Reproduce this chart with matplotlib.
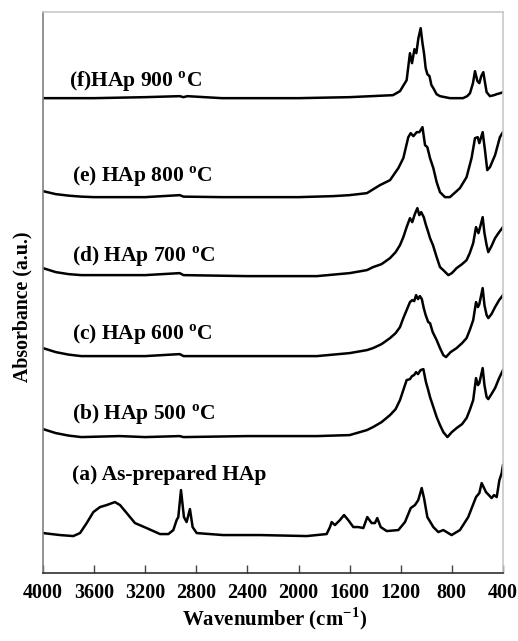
import numpy as np
import matplotlib
matplotlib.use('Agg')
import matplotlib.pyplot as plt

plt.rcParams.update({'font.family': 'Liberation Serif', 'font.weight': 'bold',
                     'mathtext.fontset': 'custom',
                     'mathtext.rm': 'Liberation Serif:bold',
                     'mathtext.bf': 'Liberation Serif:bold'})

# FTIR spectra (wavenumber in cm-1, absorbance with offset, a.u.)
wn_a = [4000, 3867, 3763, 3710, 3658, 3606, 3554, 3502, 3437, 3397, 3345, 3280, 3189, 3084,
        3019, 2980, 2954, 2941, 2920, 2897, 2876, 2850, 2829, 2797, 2591, 2300, 1936, 1780,
        1754, 1741, 1715, 1676, 1644, 1611, 1571, 1532, 1493, 1462, 1428, 1402, 1384, 1357,
        1310, 1219, 1167, 1122, 1089, 1063, 1036, 1018, 992, 945, 906, 867, 802, 737, 672,
        611, 585, 567, 533, 489, 470, 449, 428, 410, 400]
abs_a = [0.40, 0.38, 0.37, 0.40, 0.50, 0.61, 0.66, 0.68, 0.71, 0.68, 0.60, 0.50, 0.45, 0.39,
         0.39, 0.43, 0.53, 0.56, 0.83, 0.56, 0.51, 0.64, 0.46, 0.40, 0.38, 0.38, 0.37, 0.39,
         0.46, 0.51, 0.48, 0.53, 0.58, 0.53, 0.46, 0.46, 0.45, 0.56, 0.50, 0.50, 0.55, 0.46,
         0.42, 0.43, 0.51, 0.65, 0.68, 0.73, 0.85, 0.75, 0.56, 0.46, 0.41, 0.43, 0.38, 0.43, 0.56,
         0.76, 0.80, 0.90, 0.81, 0.75, 0.78, 0.76, 0.93, 1.00, 1.08]

wn_b = [4000, 3900, 3800, 3700, 3400, 3200, 2930, 2900, 2400, 1856, 1600, 1465, 1417, 1350,
        1284, 1240, 1206, 1180, 1154, 1128, 1112, 1096, 1080, 1065, 1045, 1023, 1003, 985, 971,
        950, 919, 893, 867, 835, 800, 763, 720, 685, 660, 633, 611, 596, 585, 559, 545, 528,
        515, 490, 462, 430, 400]
abs_b = [1.44, 1.40, 1.375, 1.36, 1.37, 1.36, 1.37, 1.36, 1.37, 1.37, 1.38, 1.43, 1.46, 1.51,
         1.58, 1.64, 1.73, 1.83, 1.93, 1.94, 1.97, 1.98, 2.01, 1.99, 2.03, 2.04, 1.91, 1.83, 1.76,
         1.68, 1.56, 1.48, 1.41, 1.36, 1.41, 1.45, 1.49, 1.55, 1.63, 1.73, 1.95, 1.88, 1.90, 2.05,
         1.88, 1.76, 1.74, 1.79, 1.85, 1.95, 2.03]

wn_c = [4000, 3900, 3800, 3700, 3200, 2930, 2900, 2400, 1856, 1600, 1465, 1417, 1350, 1284,
        1240, 1206, 1180, 1154, 1128, 1110, 1095, 1080, 1065, 1050, 1035, 1020, 1005, 985, 971,
        950, 919, 893, 867, 846, 810, 763, 720, 685, 660, 633, 611, 596, 585, 559, 545, 528,
        515, 490, 462, 430, 400]
abs_c = [2.25, 2.21, 2.185, 2.17, 2.17, 2.19, 2.17, 2.17, 2.17, 2.20, 2.23, 2.25, 2.29, 2.35,
         2.40, 2.46, 2.55, 2.63, 2.71, 2.73, 2.72, 2.78, 2.74, 2.77, 2.74, 2.65, 2.58, 2.51, 2.50,
         2.41, 2.33, 2.25, 2.18, 2.16, 2.21, 2.25, 2.30, 2.35, 2.43, 2.53, 2.71, 2.66, 2.69, 2.85,
         2.68, 2.58, 2.55, 2.59, 2.66, 2.73, 2.78]

wn_d = [4000, 3900, 3800, 3700, 3200, 2930, 2900, 2400, 1856, 1600, 1465, 1417, 1350, 1284,
        1240, 1206, 1180, 1154, 1128, 1110, 1090, 1070, 1055, 1040, 1020, 1005, 985, 971, 948,
        919, 893, 867, 828, 800, 763, 720, 685, 660, 633, 611, 592, 575, 559, 545, 528, 515,
        490, 462, 430, 400]
abs_d = [3.05, 3.01, 2.99, 2.98, 2.98, 3.00, 2.98, 2.97, 2.97, 3.00, 3.03, 3.06, 3.09, 3.15,
         3.21, 3.28, 3.36, 3.46, 3.55, 3.51, 3.59, 3.65, 3.58, 3.61, 3.56, 3.49, 3.41, 3.35, 3.28,
         3.16, 3.06, 3.03, 2.98, 3.00, 3.05, 3.09, 3.13, 3.20, 3.30, 3.46, 3.40, 3.48, 3.56, 3.40,
         3.28, 3.21, 3.27, 3.35, 3.41, 3.46]

wn_e = [4000, 3900, 3800, 3700, 3600, 3200, 2930, 2900, 2600, 2000, 1730, 1600, 1465, 1363,
        1284, 1219, 1180, 1141, 1122, 1101, 1075, 1054, 1030, 1010, 992, 971, 945, 919, 893,
        854, 815, 737, 685, 646, 619, 598, 585, 559, 541, 523, 502, 462, 424, 400]
abs_e = [3.82, 3.79, 3.775, 3.765, 3.76, 3.76, 3.78, 3.765, 3.76, 3.76, 3.77, 3.78, 3.80, 3.88,
         3.93, 4.05, 4.15, 4.36, 4.40, 4.37, 4.41, 4.41, 4.46, 4.28, 4.26, 4.15, 4.05, 3.91, 3.81,
         3.76, 3.76, 3.85, 3.96, 4.15, 4.35, 4.36, 4.30, 4.41, 4.23, 4.03, 4.06, 4.18, 4.36, 4.41]

wn_f = [4000, 3600, 3200, 2930, 2900, 2870, 2600, 2000, 1600, 1261, 1206, 1154, 1128, 1112,
        1093, 1078, 1062, 1044, 1030, 1018, 1005, 992, 975, 960, 945, 920, 893, 815, 713, 680,
        658, 635, 619, 600, 585, 570, 554, 540, 528, 502, 470, 449, 420, 400]
abs_f = [4.75, 4.75, 4.76, 4.77, 4.76, 4.77, 4.75, 4.75, 4.76, 4.78, 4.82, 4.93, 5.20, 5.10,
         5.24, 5.20, 5.35, 5.45, 5.30, 5.20, 5.05, 4.99, 4.97, 4.88, 4.85, 4.79, 4.77, 4.75, 4.75,
         4.77, 4.80, 4.90, 5.02, 4.92, 4.90, 4.97, 5.01, 4.90, 4.81, 4.77, 4.78, 4.79, 4.80, 4.81]

labels = ['(a) As-prepared HAp', '(b) HAp 500 $^{\\rm o}$C', '(c) HAp 600 $^{\\rm o}$C',
          '(d) HAp 700 $^{\\rm o}$C', '(e) HAp 800 $^{\\rm o}$C', '(f)HAp 900 $^{\\rm o}$C']
label_y = [0.98, 1.58, 2.38, 3.16, 3.96, 4.91]
label_x = [3770, 3770, 3770, 3770, 3770, 3800]

xticks = [4000, 3600, 3200, 2800, 2400, 2000, 1600, 1200, 800, 400]

fig = plt.figure(figsize=(5.18, 6.41), dpi=100)
ax = fig.add_axes([0.083, 0.106, 0.888, 0.875])

for wn, a in [(wn_a, abs_a), (wn_b, abs_b), (wn_c, abs_c),
              (wn_d, abs_d), (wn_e, abs_e), (wn_f, abs_f)]:
    ax.plot(wn, a, color='black', lw=1.8, solid_joinstyle='round')

for t, x, y in zip(labels, label_x, label_y):
    ax.text(x, y, t, fontsize=15.5, fontweight='bold', va='center', ha='left')

ax.set_xlim(4000, 400)
ax.set_ylim(0, 5.61)
ax.set_xticks(xticks)
ax.set_xticklabels([str(v) for v in xticks], fontsize=14.5, fontweight='bold')
ax.set_yticks([])
ax.tick_params(axis='x', direction='in', length=6, width=1, pad=7, color='#444444')

ax.spines['left'].set_color('#808080')
ax.spines['bottom'].set_color('#303030')
ax.spines['top'].set_color('#c8c8c8')
ax.spines['right'].set_color('#c8c8c8')
for s in ax.spines.values():
    s.set_linewidth(1.2)

fig.text(0.529, 0.014, 'Wavenumber (cm$^{\\mathbf{-1}}$)', fontsize=15, fontweight='bold',
         ha='center', va='bottom')
fig.text(0.044, 0.522, 'Absorbance (a.u.)', fontsize=14.3, fontweight='bold',
         rotation=90, ha='center', va='center')

fig.savefig('out.png', dpi=100)
